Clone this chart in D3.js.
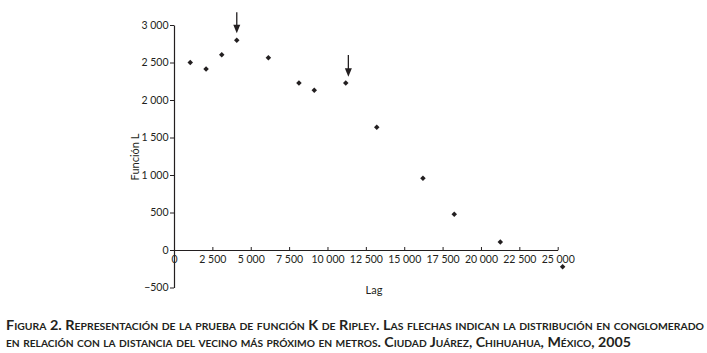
<!DOCTYPE html>
<html><head><meta charset="utf-8">
<script src="https://cdn.jsdelivr.net/npm/d3@7"></script>
<style>body{margin:0;background:#fff}svg{display:block}</style>
</head><body>
<svg id="c" width="707" height="353"></svg>
<script>
const lag = [1060, 2090, 3110, 4090, 6150, 8140, 9140, 11190, 13210, 16220, 18260, 21260, 25320];
const funcionL = [2500, 2413, 2604, 2796, 2564, 2227, 2129, 2227, 1636, 956, 476, 107, -223];
const xTicks = [0, 2500, 5000, 7500, 10000, 12500, 15000, 17500, 20000, 22500, 25000];
const yTicks = [-500, 0, 500, 1000, 1500, 2000, 2500, 3000];
const arrowLag = [4090, 11360];
const arrowFrom = [3170, 2600];
const arrowTo = [2890, 2310];
const captionLines = [
  "Figura 2. Representación de la prueba de función K de Ripley. Las flechas indican la distribución en conglomerado",
  "en relación con la distancia del vecino más próximo en metros. Ciudad Juárez, Chihuahua, México, 2005"
];

const ink = "#231f20";
const svg = d3.select("#c");
const x = d3.scaleLinear().domain([0, 25000]).range([174, 557.7]);
const y = d3.scaleLinear().domain([-500, 3000]).range([287.5, 25]);
const fmt = v => d3.format(",")(v).replace(/,/g, " ");
const font = "Lato, 'Open Sans', sans-serif";

const gx = svg.append("g").attr("transform", `translate(0,${y(0)})`)
  .call(d3.axisBottom(x).tickValues(xTicks).tickSizeInner(-3).tickSizeOuter(0).tickPadding(6).tickFormat(fmt));
gx.select(".domain").attr("stroke", ink).attr("stroke-width", 1.2);
gx.selectAll(".tick line").attr("stroke", ink);
gx.selectAll(".tick text").attr("fill", ink).style("font-family", font).style("font-size", "10.5px");

const gy = svg.append("g").attr("transform", `translate(${x(0)},0)`)
  .call(d3.axisLeft(y).tickValues(yTicks).tickSizeInner(4).tickSizeOuter(0).tickPadding(1.5).tickFormat(fmt));
gy.select(".domain").attr("stroke", ink).attr("stroke-width", 1.2);
gy.selectAll(".tick line").attr("stroke", ink);
gy.selectAll(".tick text").attr("fill", ink).style("font-family", font).style("font-size", "10.5px");

const sym = d3.symbol().type(d3.symbolSquare).size(15);
svg.append("g").selectAll("path").data(lag).join("path")
  .attr("d", sym)
  .attr("transform", (d, i) => `translate(${x(d)},${y(funcionL[i])}) rotate(45)`)
  .attr("fill", ink);

// arrows
arrowLag.forEach((a, i) => {
  const ax = x(a), y0 = y(arrowFrom[i]), y1 = y(arrowTo[i]);
  svg.append("line").attr("x1", ax).attr("x2", ax).attr("y1", y0).attr("y2", y1 - 6)
    .attr("stroke", ink).attr("stroke-width", 1.3);
  svg.append("path").attr("d", `M${ax - 3.5},${y1 - 8.5}L${ax + 3.5},${y1 - 8.5}L${ax},${y1}Z`).attr("fill", ink);
});

svg.append("text").attr("transform", `translate(139,157) rotate(-90)`)
  .attr("text-anchor", "middle").attr("fill", ink)
  .style("font-family", font).style("font-size", "11px").text("Función L");
svg.append("text").attr("x", 374).attr("y", 294).attr("text-anchor", "middle").attr("fill", ink)
  .style("font-family", font).style("font-size", "11px").text("Lag");

const capLens = [698, 625];
captionLines.forEach((t, i) => {
  svg.append("text").attr("x", 6).attr("y", 330 + i * 17).attr("fill", ink)
    .style("font-family", font).style("font-size", "12.5px").style("font-weight", "bold")
    .style("font-variant", "small-caps")
    .attr("textLength", capLens[i]).attr("lengthAdjust", "spacingAndGlyphs")
    .text(t);
});
</script>
</body></html>
